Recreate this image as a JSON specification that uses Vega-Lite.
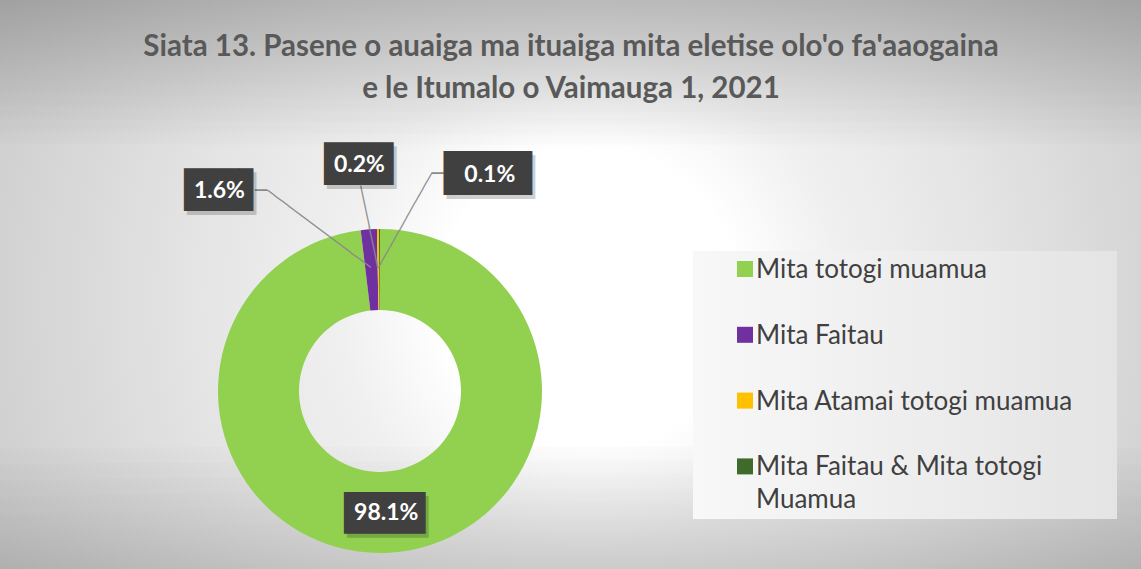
{
  "$schema": "https://vega.github.io/schema/vega-lite/v6.json",
  "autosize": "none",
  "width": 326,
  "height": 324,
  "padding": {"left": 217, "top": 229, "right": 598, "bottom": 16},
  "background": "#ffffff",
  "config": {"view": {"stroke": null}},
  "title": {
    "text": ["Siata 13. Pasene o auaiga ma ituaiga mita eletise olo'o fa'aaogaina", "e le Itumalo o Vaimauga 1, 2021"],
    "font": "Lato",
    "fontSize": 29.5,
    "fontWeight": "bold",
    "color": "#595959",
    "lineHeight": 42,
    "anchor": "middle",
    "baseline": "alphabetic",
    "dx": 191,
    "offset": -596
  },
  "data": {
    "values": [
      {"k": 1, "cat": "Mita totogi muamua", "v": 98.1, "lbl": "98.1%"},
      {"k": 2, "cat": "Mita Faitau", "v": 1.6, "lbl": "1.6%"},
      {"k": 3, "cat": "Mita Atamai totogi muamua", "v": 0.2, "lbl": "0.2%"},
      {"k": 4, "cat": "Mita Faitau & Mita totogi Muamua", "v": 0.1, "lbl": "0.1%"}
    ]
  },
  "layer": [
    {
      "mark": {"type": "arc", "theta": 0, "theta2": 6.2832, "outerRadius": 860, "innerRadius": 0,
        "fill": {"gradient": "radial", "x1": 0.6221, "y1": 0.4471, "r1": 0, "x2": 0.6221, "y2": 0.4471, "r2": 0.407,
          "stops": [{"offset": 0, "color": "#ffffff"}, {"offset": 0.214, "color": "#ffffff"}, {"offset": 0.357, "color": "#f0f0f0"}, {"offset": 0.571, "color": "#e4e4e4"}, {"offset": 0.814, "color": "#d4d4d4"}, {"offset": 1, "color": "#c9c9c9"}]}},
      "encoding": {}
    },
    {
      "mark": {"type": "arc", "theta": 0, "theta2": 6.2832, "outerRadius": 860, "innerRadius": 0,
        "fill": {"gradient": "linear", "x1": 0, "y1": 0, "x2": 0, "y2": 1,
          "stops": [{"offset": 0.2727, "color": "rgba(0,0,0,0.06)"}, {"offset": 0.36, "color": "rgba(0,0,0,0)"}, {"offset": 0.5285, "color": "rgba(0,0,0,0)"}, {"offset": 0.6035, "color": "rgba(0,0,0,0.04)"}]}},
      "encoding": {}
    },
    {
      "mark": {"type": "arc", "innerRadius": 81, "outerRadius": 162},
      "encoding": {
        "theta": {"field": "v", "type": "quantitative", "stack": true},
        "order": {"field": "k", "type": "quantitative"},
        "color": {
          "field": "cat", "type": "nominal",
          "scale": {"domain": ["Mita totogi muamua", "Mita Faitau", "Mita Atamai totogi muamua", "Mita Faitau & Mita totogi Muamua"],
                    "range": ["#92D050", "#7030A0", "#FFC000", "#3E6B2C"]},
          "legend": {
            "title": null,
            "orient": "none",
            "legendX": 476,
            "legendY": 22,
            "direction": "vertical",
            "padding": 5,
            "fillColor": "#f0f0f0",
            "symbolType": "square",
            "symbolSize": 256,
            "symbolStrokeWidth": 0,
            "symbolOffset": 34,
            "labelFont": "Lato",
            "labelFontSize": 26,
            "labelColor": "#404040",
            "labelLimit": 500,
            "labelOffset": -2,
            "labelBaseline": "alphabetic",
            "rowPadding": 38.8,
            "labelExpr": "datum.label == 'Mita Faitau & Mita totogi Muamua' ? ['Mita Faitau & Mita totogi', 'Muamua'] : datum.label == 'Mita Atamai totogi muamua' ? datum.label + '\u2800\u2800' : datum.label",
            "encode": {
              "labels": {"update": {"dy": {"value": 9}, "lineHeight": {"value": 33}}},
              "legend": {"update": {"fill": {"value": {"gradient": "linear", "x1": 0, "y1": 0, "x2": 1, "y2": 0, "stops": [{"offset": 0, "color": "#f8f8f8"}, {"offset": 1, "color": "#e4e4e4"}]}}}}
            }
          }
        }
      }
    },
    {
      "mark": {"type": "text", "font": "DejaVu Sans", "fontSize": 14.3, "align": "center", "baseline": "middle", "color": "#8a8a8a", "angle": 36.8, "dx": -145.98, "dy": -92.47},
      "encoding": {"text": {"condition": {"test": "datum.k == 1", "value": "───────────────"}, "value": ""}}
    },
    {
      "mark": {"type": "text", "font": "DejaVu Sans", "fontSize": 20, "align": "center", "baseline": "middle", "color": "#8a8a8a", "dx": -119, "dy": -200},
      "encoding": {"text": {"condition": {"test": "datum.k == 1", "value": "─"}, "value": ""}}
    },
    {
      "mark": {"type": "text", "font": "DejaVu Sans", "fontSize": 13.9, "align": "center", "baseline": "middle", "color": "#8a8a8a", "angle": 78.3, "dx": -162.92, "dy": -22.0},
      "encoding": {"text": {"condition": {"test": "datum.k == 1", "value": "──────────"}, "value": ""}}
    },
    {
      "mark": {"type": "text", "font": "DejaVu Sans", "fontSize": 13.8, "align": "center", "baseline": "middle", "color": "#8a8a8a", "angle": -60.6, "dx": 160.62, "dy": -61.23},
      "encoding": {"text": {"condition": {"test": "datum.k == 1", "value": "─────────────"}, "value": ""}}
    },
    {
      "mark": {"type": "text", "font": "DejaVu Sans", "fontSize": 20, "align": "center", "baseline": "middle", "color": "#8a8a8a", "dx": 57.5, "dy": -217},
      "encoding": {"text": {"condition": {"test": "datum.k == 1", "value": "─"}, "value": ""}}
    },
    {
      "mark": {"type": "text", "font": "DejaVu Sans", "fontSize": 35.2, "align": "left", "baseline": "middle", "color": "#000000", "opacity": 0.18, "radius": 122, "dx": -40.4, "dy": 5},
      "encoding": {
        "theta": {"field": "v", "type": "quantitative", "stack": true},
        "order": {"field": "k", "type": "quantitative"},
        "text": {"condition": {"test": "datum.k == 1", "value": "███"}, "value": ""}
      }
    },
    {
      "mark": {"type": "text", "font": "DejaVu Sans", "fontSize": 36, "align": "left", "baseline": "middle", "color": "#000000", "opacity": 0.18, "radius": 200.5, "dx": -178.9, "dy": 4},
      "encoding": {
        "theta": {"field": "v", "type": "quantitative", "stack": true},
        "order": {"field": "k", "type": "quantitative"},
        "text": {"condition": {"test": "datum.k == 2", "value": "██▌"}, "value": ""}
      }
    },
    {
      "mark": {"type": "text", "font": "DejaVu Sans", "fontSize": 36, "align": "left", "baseline": "middle", "color": "#000000", "opacity": 0.18, "radius": 226.2, "dx": -49.9, "dy": 4},
      "encoding": {
        "theta": {"field": "v", "type": "quantitative", "stack": true},
        "order": {"field": "k", "type": "quantitative"},
        "text": {"condition": {"test": "datum.k == 3", "value": "██▌"}, "value": ""}
      }
    },
    {
      "mark": {"type": "text", "font": "DejaVu Sans", "fontSize": 37, "align": "left", "baseline": "middle", "color": "#000000", "opacity": 0.18, "radius": 216, "dx": 67.5, "dy": 4},
      "encoding": {
        "theta": {"field": "v", "type": "quantitative", "stack": true},
        "order": {"field": "k", "type": "quantitative"},
        "text": {"condition": {"test": "datum.k == 4", "value": "███▏"}, "value": ""}
      }
    },
    {
      "mark": {"type": "text", "font": "DejaVu Sans", "fontSize": 35.2, "align": "left", "baseline": "middle", "color": "#404040", "radius": 122, "dx": -43.4, "dy": 1},
      "encoding": {
        "theta": {"field": "v", "type": "quantitative", "stack": true},
        "order": {"field": "k", "type": "quantitative"},
        "text": {"condition": {"test": "datum.k == 1", "value": "███"}, "value": ""}
      }
    },
    {
      "mark": {"type": "text", "font": "DejaVu Sans", "fontSize": 36, "align": "left", "baseline": "middle", "color": "#404040", "radius": 200.5, "dx": -181.9, "dy": 0},
      "encoding": {
        "theta": {"field": "v", "type": "quantitative", "stack": true},
        "order": {"field": "k", "type": "quantitative"},
        "text": {"condition": {"test": "datum.k == 2", "value": "██▌"}, "value": ""}
      }
    },
    {
      "mark": {"type": "text", "font": "DejaVu Sans", "fontSize": 36, "align": "left", "baseline": "middle", "color": "#404040", "radius": 226.2, "dx": -52.9, "dy": 0},
      "encoding": {
        "theta": {"field": "v", "type": "quantitative", "stack": true},
        "order": {"field": "k", "type": "quantitative"},
        "text": {"condition": {"test": "datum.k == 3", "value": "██▌"}, "value": ""}
      }
    },
    {
      "mark": {"type": "text", "font": "DejaVu Sans", "fontSize": 37, "align": "left", "baseline": "middle", "color": "#404040", "radius": 216, "dx": 64.5, "dy": 0},
      "encoding": {
        "theta": {"field": "v", "type": "quantitative", "stack": true},
        "order": {"field": "k", "type": "quantitative"},
        "text": {"condition": {"test": "datum.k == 4", "value": "███▏"}, "value": ""}
      }
    },
    {
      "mark": {"type": "text", "font": "Lato", "fontSize": 23, "fontWeight": "bold", "align": "center", "baseline": "middle", "color": "#ffffff", "radius": 122, "dx": -1},
      "encoding": {
        "theta": {"field": "v", "type": "quantitative", "stack": true},
        "order": {"field": "k", "type": "quantitative"},
        "text": {"condition": {"test": "datum.k == 1", "field": "lbl"}, "value": ""}
      }
    },
    {
      "mark": {"type": "text", "font": "Lato", "fontSize": 23, "fontWeight": "bold", "align": "center", "baseline": "middle", "color": "#ffffff", "radius": 200.5, "dx": -146.7},
      "encoding": {
        "theta": {"field": "v", "type": "quantitative", "stack": true},
        "order": {"field": "k", "type": "quantitative"},
        "text": {"condition": {"test": "datum.k == 2", "field": "lbl"}, "value": ""}
      }
    },
    {
      "mark": {"type": "text", "font": "Lato", "fontSize": 23, "fontWeight": "bold", "align": "center", "baseline": "middle", "color": "#ffffff", "radius": 226.2, "dx": -17.7},
      "encoding": {
        "theta": {"field": "v", "type": "quantitative", "stack": true},
        "order": {"field": "k", "type": "quantitative"},
        "text": {"condition": {"test": "datum.k == 3", "field": "lbl"}, "value": ""}
      }
    },
    {
      "mark": {"type": "text", "font": "Lato", "fontSize": 23, "fontWeight": "bold", "align": "center", "baseline": "middle", "color": "#ffffff", "radius": 216, "dx": 110.5},
      "encoding": {
        "theta": {"field": "v", "type": "quantitative", "stack": true},
        "order": {"field": "k", "type": "quantitative"},
        "text": {"condition": {"test": "datum.k == 4", "field": "lbl"}, "value": ""}
      }
    }
  ]
}
